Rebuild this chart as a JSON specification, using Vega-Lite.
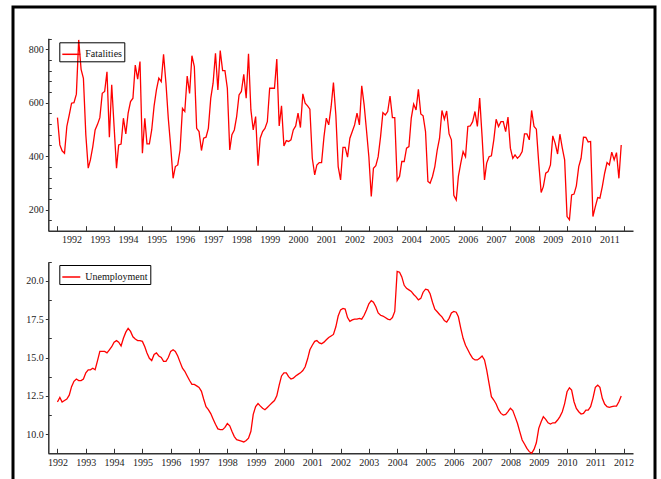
{
"$schema": "https://vega.github.io/schema/vega-lite/v6.json",
"width": 642,
"height": 476,
"autosize": {"type": "none"},
"padding": {"left": 13, "top": 7, "right": 6, "bottom": -4},
"background": "white",
"config": {
  "font": "Liberation Serif",
  "view": {"stroke": "black", "strokeWidth": 3},
  "axis": {"labelFont": "Liberation Serif, Times New Roman, serif", "labelFontSize": 10, "labelColor": "#222", "domainColor": "#333", "domainWidth": 1.5, "tickColor": "#333", "tickWidth": 1, "grid": false, "title": null},
  "legend": {"labelFont": "Liberation Serif, Times New Roman, serif", "labelFontSize": 10, "labelColor": "#111"}
},
"data": {"format": {"parse": {"date": "utc:'%Y-%m'"}}, "values": [
{"date":"1992-01","fatalities":544,"unemployment":12.1},{"date":"1992-02","fatalities":442,"unemployment":12.4},{"date":"1992-03","fatalities":420,"unemployment":12.1},{"date":"1992-04","fatalities":411,"unemployment":12.2},{"date":"1992-05","fatalities":511,"unemployment":12.3},{"date":"1992-06","fatalities":554,"unemployment":12.55},{"date":"1992-07","fatalities":598,"unemployment":13.1},{"date":"1992-08","fatalities":600,"unemployment":13.45},{"date":"1992-09","fatalities":632,"unemployment":13.6},{"date":"1992-10","fatalities":835,"unemployment":13.5},{"date":"1992-11","fatalities":725,"unemployment":13.5},{"date":"1992-12","fatalities":691,"unemployment":13.6},
{"date":"1993-01","fatalities":480,"unemployment":14.0},{"date":"1993-02","fatalities":355,"unemployment":14.2},{"date":"1993-03","fatalities":386,"unemployment":14.2},{"date":"1993-04","fatalities":436,"unemployment":14.3},{"date":"1993-05","fatalities":498,"unemployment":14.2},{"date":"1993-06","fatalities":519,"unemployment":14.8},{"date":"1993-07","fatalities":544,"unemployment":15.4},{"date":"1993-08","fatalities":635,"unemployment":15.4},{"date":"1993-09","fatalities":642,"unemployment":15.4},{"date":"1993-10","fatalities":716,"unemployment":15.3},{"date":"1993-11","fatalities":471,"unemployment":15.5},{"date":"1993-12","fatalities":667,"unemployment":15.7},
{"date":"1994-01","fatalities":510,"unemployment":16.0},{"date":"1994-02","fatalities":355,"unemployment":16.1},{"date":"1994-03","fatalities":442,"unemployment":16.0},{"date":"1994-04","fatalities":445,"unemployment":15.75},{"date":"1994-05","fatalities":542,"unemployment":16.25},{"date":"1994-06","fatalities":483,"unemployment":16.65},{"date":"1994-07","fatalities":561,"unemployment":16.9},{"date":"1994-08","fatalities":604,"unemployment":16.7},{"date":"1994-09","fatalities":617,"unemployment":16.35},{"date":"1994-10","fatalities":741,"unemployment":16.2},{"date":"1994-11","fatalities":688,"unemployment":16.1},{"date":"1994-12","fatalities":754,"unemployment":16.1},
{"date":"1995-01","fatalities":411,"unemployment":16.05},{"date":"1995-02","fatalities":542,"unemployment":15.7},{"date":"1995-03","fatalities":446,"unemployment":15.3},{"date":"1995-04","fatalities":446,"unemployment":14.95},{"date":"1995-05","fatalities":498,"unemployment":14.8},{"date":"1995-06","fatalities":588,"unemployment":15.2},{"date":"1995-07","fatalities":648,"unemployment":15.3},{"date":"1995-08","fatalities":692,"unemployment":15.1},{"date":"1995-09","fatalities":679,"unemployment":15.0},{"date":"1995-10","fatalities":781,"unemployment":14.75},{"date":"1995-11","fatalities":673,"unemployment":14.75},{"date":"1995-12","fatalities":542,"unemployment":15.0},
{"date":"1996-01","fatalities":436,"unemployment":15.4},{"date":"1996-02","fatalities":317,"unemployment":15.5},{"date":"1996-03","fatalities":361,"unemployment":15.4},{"date":"1996-04","fatalities":367,"unemployment":15.1},{"date":"1996-05","fatalities":423,"unemployment":14.7},{"date":"1996-06","fatalities":579,"unemployment":14.3},{"date":"1996-07","fatalities":567,"unemployment":14.1},{"date":"1996-08","fatalities":700,"unemployment":13.8},{"date":"1996-09","fatalities":635,"unemployment":13.5},{"date":"1996-10","fatalities":776,"unemployment":13.25},{"date":"1996-11","fatalities":735,"unemployment":13.25},{"date":"1996-12","fatalities":504,"unemployment":13.15},
{"date":"1997-01","fatalities":492,"unemployment":13.05},{"date":"1997-02","fatalities":421,"unemployment":12.8},{"date":"1997-03","fatalities":467,"unemployment":12.3},{"date":"1997-04","fatalities":471,"unemployment":11.8},{"date":"1997-05","fatalities":504,"unemployment":11.6},{"date":"1997-06","fatalities":617,"unemployment":11.35},{"date":"1997-07","fatalities":673,"unemployment":11.0},{"date":"1997-08","fatalities":785,"unemployment":10.65},{"date":"1997-09","fatalities":648,"unemployment":10.35},{"date":"1997-10","fatalities":795,"unemployment":10.3},{"date":"1997-11","fatalities":720,"unemployment":10.3},{"date":"1997-12","fatalities":720,"unemployment":10.45},
{"date":"1998-01","fatalities":654,"unemployment":10.7},{"date":"1998-02","fatalities":423,"unemployment":10.55},{"date":"1998-03","fatalities":480,"unemployment":10.2},{"date":"1998-04","fatalities":498,"unemployment":9.85},{"date":"1998-05","fatalities":548,"unemployment":9.65},{"date":"1998-06","fatalities":629,"unemployment":9.6},{"date":"1998-07","fatalities":642,"unemployment":9.55},{"date":"1998-08","fatalities":706,"unemployment":9.5},{"date":"1998-09","fatalities":617,"unemployment":9.6},{"date":"1998-10","fatalities":783,"unemployment":9.75},{"date":"1998-11","fatalities":573,"unemployment":10.2},{"date":"1998-12","fatalities":498,"unemployment":11.3},
{"date":"1999-01","fatalities":548,"unemployment":11.8},{"date":"1999-02","fatalities":364,"unemployment":12.0},{"date":"1999-03","fatalities":467,"unemployment":11.85},{"date":"1999-04","fatalities":492,"unemployment":11.7},{"date":"1999-05","fatalities":504,"unemployment":11.6},{"date":"1999-06","fatalities":529,"unemployment":11.75},{"date":"1999-07","fatalities":654,"unemployment":11.9},{"date":"1999-08","fatalities":654,"unemployment":12.05},{"date":"1999-09","fatalities":654,"unemployment":12.2},{"date":"1999-10","fatalities":763,"unemployment":12.5},{"date":"1999-11","fatalities":513,"unemployment":13.2},{"date":"1999-12","fatalities":588,"unemployment":13.8},
{"date":"2000-01","fatalities":438,"unemployment":14.0},{"date":"2000-02","fatalities":458,"unemployment":14.0},{"date":"2000-03","fatalities":455,"unemployment":13.75},{"date":"2000-04","fatalities":461,"unemployment":13.6},{"date":"2000-05","fatalities":498,"unemployment":13.65},{"date":"2000-06","fatalities":513,"unemployment":13.8},{"date":"2000-07","fatalities":561,"unemployment":13.9},{"date":"2000-08","fatalities":507,"unemployment":14.0},{"date":"2000-09","fatalities":633,"unemployment":14.15},{"date":"2000-10","fatalities":598,"unemployment":14.4},{"date":"2000-11","fatalities":588,"unemployment":14.9},{"date":"2000-12","fatalities":576,"unemployment":15.5},
{"date":"2001-01","fatalities":392,"unemployment":15.8},{"date":"2001-02","fatalities":330,"unemployment":16.05},{"date":"2001-03","fatalities":367,"unemployment":16.1},{"date":"2001-04","fatalities":376,"unemployment":15.95},{"date":"2001-05","fatalities":376,"unemployment":15.9},{"date":"2001-06","fatalities":473,"unemployment":16.0},{"date":"2001-07","fatalities":542,"unemployment":16.15},{"date":"2001-08","fatalities":517,"unemployment":16.3},{"date":"2001-09","fatalities":585,"unemployment":16.4},{"date":"2001-10","fatalities":675,"unemployment":16.5},{"date":"2001-11","fatalities":554,"unemployment":17.0},{"date":"2001-12","fatalities":361,"unemployment":17.7},
{"date":"2002-01","fatalities":311,"unemployment":18.1},{"date":"2002-02","fatalities":433,"unemployment":18.2},{"date":"2002-03","fatalities":433,"unemployment":18.15},{"date":"2002-04","fatalities":396,"unemployment":17.6},{"date":"2002-05","fatalities":467,"unemployment":17.35},{"date":"2002-06","fatalities":492,"unemployment":17.45},{"date":"2002-07","fatalities":517,"unemployment":17.5},{"date":"2002-08","fatalities":561,"unemployment":17.5},{"date":"2002-09","fatalities":517,"unemployment":17.55},{"date":"2002-10","fatalities":663,"unemployment":17.5},{"date":"2002-11","fatalities":592,"unemployment":17.75},{"date":"2002-12","fatalities":498,"unemployment":18.1},
{"date":"2003-01","fatalities":398,"unemployment":18.5},{"date":"2003-02","fatalities":249,"unemployment":18.7},{"date":"2003-03","fatalities":355,"unemployment":18.6},{"date":"2003-04","fatalities":364,"unemployment":18.3},{"date":"2003-05","fatalities":398,"unemployment":17.9},{"date":"2003-06","fatalities":473,"unemployment":17.75},{"date":"2003-07","fatalities":563,"unemployment":17.7},{"date":"2003-08","fatalities":554,"unemployment":17.6},{"date":"2003-09","fatalities":567,"unemployment":17.5},{"date":"2003-10","fatalities":625,"unemployment":17.45},{"date":"2003-11","fatalities":544,"unemployment":17.6},{"date":"2003-12","fatalities":544,"unemployment":18.0},
{"date":"2004-01","fatalities":309,"unemployment":20.6},{"date":"2004-02","fatalities":324,"unemployment":20.55},{"date":"2004-03","fatalities":380,"unemployment":20.25},{"date":"2004-04","fatalities":380,"unemployment":19.7},{"date":"2004-05","fatalities":430,"unemployment":19.5},{"date":"2004-06","fatalities":436,"unemployment":19.4},{"date":"2004-07","fatalities":542,"unemployment":19.3},{"date":"2004-08","fatalities":595,"unemployment":19.1},{"date":"2004-09","fatalities":573,"unemployment":18.95},{"date":"2004-10","fatalities":650,"unemployment":18.75},{"date":"2004-11","fatalities":558,"unemployment":18.85},{"date":"2004-12","fatalities":551,"unemployment":19.25},
{"date":"2005-01","fatalities":492,"unemployment":19.45},{"date":"2005-02","fatalities":305,"unemployment":19.4},{"date":"2005-03","fatalities":299,"unemployment":19.15},{"date":"2005-04","fatalities":324,"unemployment":18.6},{"date":"2005-05","fatalities":361,"unemployment":18.15},{"date":"2005-06","fatalities":423,"unemployment":17.98},{"date":"2005-07","fatalities":467,"unemployment":17.8},{"date":"2005-08","fatalities":571,"unemployment":17.65},{"date":"2005-09","fatalities":538,"unemployment":17.4},{"date":"2005-10","fatalities":569,"unemployment":17.3},{"date":"2005-11","fatalities":483,"unemployment":17.55},{"date":"2005-12","fatalities":461,"unemployment":17.9},
{"date":"2006-01","fatalities":253,"unemployment":18.0},{"date":"2006-02","fatalities":236,"unemployment":17.95},{"date":"2006-03","fatalities":324,"unemployment":17.65},{"date":"2006-04","fatalities":374,"unemployment":16.9},{"date":"2006-05","fatalities":417,"unemployment":16.25},{"date":"2006-06","fatalities":398,"unemployment":15.8},{"date":"2006-07","fatalities":511,"unemployment":15.5},{"date":"2006-08","fatalities":513,"unemployment":15.2},{"date":"2006-09","fatalities":529,"unemployment":14.95},{"date":"2006-10","fatalities":567,"unemployment":14.84},{"date":"2006-11","fatalities":511,"unemployment":14.84},{"date":"2006-12","fatalities":617,"unemployment":14.95},
{"date":"2007-01","fatalities":473,"unemployment":15.1},{"date":"2007-02","fatalities":311,"unemployment":14.84},{"date":"2007-03","fatalities":374,"unemployment":14.2},{"date":"2007-04","fatalities":398,"unemployment":13.3},{"date":"2007-05","fatalities":401,"unemployment":12.45},{"date":"2007-06","fatalities":461,"unemployment":12.23},{"date":"2007-07","fatalities":538,"unemployment":11.97},{"date":"2007-08","fatalities":511,"unemployment":11.6},{"date":"2007-09","fatalities":529,"unemployment":11.36},{"date":"2007-10","fatalities":529,"unemployment":11.25},{"date":"2007-11","fatalities":492,"unemployment":11.3},{"date":"2007-12","fatalities":546,"unemployment":11.47},
{"date":"2008-01","fatalities":430,"unemployment":11.7},{"date":"2008-02","fatalities":392,"unemployment":11.54},{"date":"2008-03","fatalities":405,"unemployment":11.15},{"date":"2008-04","fatalities":392,"unemployment":10.72},{"date":"2008-05","fatalities":401,"unemployment":10.17},{"date":"2008-06","fatalities":417,"unemployment":9.63},{"date":"2008-07","fatalities":483,"unemployment":9.37},{"date":"2008-08","fatalities":483,"unemployment":9.08},{"date":"2008-09","fatalities":461,"unemployment":8.87},{"date":"2008-10","fatalities":571,"unemployment":8.76},{"date":"2008-11","fatalities":511,"unemployment":9.02},{"date":"2008-12","fatalities":501,"unemployment":9.45},
{"date":"2009-01","fatalities":374,"unemployment":10.39},{"date":"2009-02","fatalities":264,"unemployment":10.82},{"date":"2009-03","fatalities":286,"unemployment":11.15},{"date":"2009-04","fatalities":336,"unemployment":10.97},{"date":"2009-05","fatalities":342,"unemployment":10.75},{"date":"2009-06","fatalities":367,"unemployment":10.67},{"date":"2009-07","fatalities":476,"unemployment":10.75},{"date":"2009-08","fatalities":448,"unemployment":10.75},{"date":"2009-09","fatalities":408,"unemployment":10.93},{"date":"2009-10","fatalities":482,"unemployment":11.15},{"date":"2009-11","fatalities":430,"unemployment":11.47},{"date":"2009-12","fatalities":386,"unemployment":12.0},
{"date":"2010-01","fatalities":174,"unemployment":12.77},{"date":"2010-02","fatalities":162,"unemployment":13.03},{"date":"2010-03","fatalities":255,"unemployment":12.88},{"date":"2010-04","fatalities":258,"unemployment":12.12},{"date":"2010-05","fatalities":289,"unemployment":11.69},{"date":"2010-06","fatalities":361,"unemployment":11.47},{"date":"2010-07","fatalities":392,"unemployment":11.32},{"date":"2010-08","fatalities":471,"unemployment":11.36},{"date":"2010-09","fatalities":470,"unemployment":11.58},{"date":"2010-10","fatalities":453,"unemployment":11.58},{"date":"2010-11","fatalities":455,"unemployment":11.8},{"date":"2010-12","fatalities":174,"unemployment":12.34},
{"date":"2011-01","fatalities":211,"unemployment":13.06},{"date":"2011-02","fatalities":245,"unemployment":13.2},{"date":"2011-03","fatalities":243,"unemployment":13.06},{"date":"2011-04","fatalities":286,"unemployment":12.34},{"date":"2011-05","fatalities":336,"unemployment":11.97},{"date":"2011-06","fatalities":376,"unemployment":11.8},{"date":"2011-07","fatalities":367,"unemployment":11.75},{"date":"2011-08","fatalities":415,"unemployment":11.8},{"date":"2011-09","fatalities":386,"unemployment":11.84},{"date":"2011-10","fatalities":413,"unemployment":11.84},{"date":"2011-11","fatalities":317,"unemployment":12.12},{"date":"2011-12","fatalities":442,"unemployment":12.5}
]},
"layer": [
  {
    "mark": {"type": "line", "strokeWidth": 1.3},
    "encoding": {
      "x": {"field": "date", "type": "temporal",
        "scale": {"type": "utc", "domain": [{"year": 1991, "month": 9, "date": 1, "utc": true}, {"year": 2012, "month": 5, "date": 1, "utc": true}], "range": [35, 620]},
        "axis": {"orient": "bottom", "offset": -252.3, "tickCount": {"interval": "year", "step": 1}, "tickSize": -5, "labelPadding": 9, "labelOffset": 14, "labelExpr": "utcyear(datum.value) >= 2012 ? '' : utcFormat(datum.value, '%Y')", "labelOverlap": false, "labelFlush": false, "labelBound": false}},
      "y": {"field": "fatalities", "type": "quantitative",
        "scale": {"domain": [121, 841], "range": [223.7, 31.3], "nice": false, "zero": false},
        "axis": {"orient": "left", "offset": -35.3, "values": [160,200,240,280,320,360,400,440,480,520,560,600,640,680,720,760,800,840], "labelExpr": "datum.value % 200 === 0 ? format(datum.value, 'd') : ''", "tickSize": {"condition": {"test": "datum.value % 200 === 0", "value": 3}, "value": -3}, "labelPadding": 2, "labelOverlap": false}},
      "color": {"datum": "Fatalities", "scale": {"range": ["#ff0000"]},
        "legend": {"orient": "none", "legendX": 46.3, "legendY": 35.3, "strokeColor": "black", "padding": 2, "symbolType": "stroke", "symbolSize": 324, "symbolStrokeWidth": 1.5, "title": null, "labelFont": "Liberation Serif, Times New Roman, serif"}}
    }
  },
  {
    "mark": {"type": "line", "strokeWidth": 1.3},
    "encoding": {
      "x": {"field": "date", "type": "temporal",
        "scale": {"type": "utc", "domain": [{"year": 1991, "month": 9, "date": 1, "utc": true}, {"year": 2012, "month": 5, "date": 1, "utc": true}], "range": [35, 620]},
        "axis": {"orient": "bottom", "offset": -29.7, "tickCount": {"interval": "year", "step": 1}, "tickSize": -5, "labelPadding": 9, "format": "%Y", "labelOverlap": false, "labelFlush": false, "labelBound": false}},
      "y": {"field": "unemployment", "type": "quantitative",
        "scale": {"domain": [8.763, 21.237], "range": [446.3, 254.7], "nice": false, "zero": false},
        "axis": {"orient": "left", "offset": -35.3, "values": [10,11.25,12.5,13.75,15,16.25,17.5,18.75,20,21.25], "labelExpr": "datum.value % 2.5 === 0 ? format(datum.value, '.1f') : ''", "tickSize": {"condition": {"test": "datum.value % 2.5 === 0", "value": 3}, "value": -3}, "labelPadding": 2, "labelOverlap": false}},
      "color": {"datum": "Unemployment", "scale": {"range": ["#ff0000"]},
        "legend": {"orient": "none", "legendX": 46.3, "legendY": 258, "strokeColor": "black", "padding": 2, "symbolType": "stroke", "symbolSize": 324, "symbolStrokeWidth": 1.5, "title": null, "labelFont": "Liberation Serif, Times New Roman, serif"}}
    }
  }
],
"resolve": {"scale": {"x": "independent", "y": "independent", "color": "independent"}, "axis": {"x": "independent", "y": "independent"}, "legend": {"color": "independent"}}
}
